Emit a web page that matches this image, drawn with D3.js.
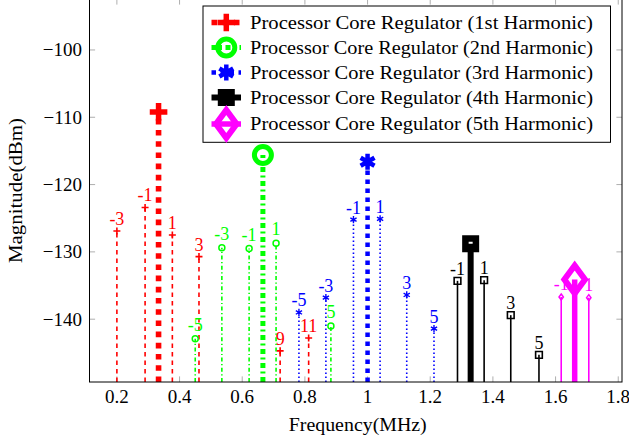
<!DOCTYPE html>
<html>
<head>
<meta charset="utf-8">
<script src="https://cdn.jsdelivr.net/npm/d3@7"></script>
<style>
  body { margin: 0; background: #fff; }
</style>
</head>
<body>
<div id="chart"></div>
<script>
// Chart data
const legendNames = [
    "Processor Core Regulator (1st Harmonic)",
    "Processor Core Regulator (2nd Harmonic)",
    "Processor Core Regulator (3rd Harmonic)",
    "Processor Core Regulator (4th Harmonic)",
    "Processor Core Regulator (5th Harmonic)"
];
const xTicks = [0.2, 0.4, 0.6, 0.8, 1.0, 1.2, 1.4, 1.6, 1.8];
const yTicks = [-140, -130, -120, -110, -100];

// main harmonic peaks
const mainFreq = [0.333, 0.666, 1.0, 1.329, 1.661];
const mainMag = [-109.2, -115.6, -116.6, -128.8, -134.1];

// sidebands of each harmonic: order label, frequency (MHz), magnitude (dBm)
const h1Orders = [-3, -1, 1, 3, 9, 11];
const h1Freq = [0.200, 0.290, 0.377, 0.462, 0.721, 0.812];
const h1Mag = [-126.9, -123.4, -127.5, -130.7, -144.7, -142.8];

const h2Orders = [-5, -3, -1, 1, 5];
const h2Freq = [0.450, 0.535, 0.622, 0.708, 0.883];
const h2Mag = [-142.9, -129.4, -129.5, -128.7, -141.0];

const h3Orders = [-5, -3, -1, 1, 3, 5];
const h3Freq = [0.781, 0.867, 0.955, 1.040, 1.125, 1.212];
const h3Mag = [-139.0, -136.8, -125.2, -125.1, -136.4, -141.4];

const h4Orders = [-1, 1, 3, 5];
const h4Freq = [1.287, 1.372, 1.457, 1.547];
const h4Mag = [-134.3, -134.2, -139.4, -145.3];

const h5Orders = [-1, 1];
const h5Freq = [1.618, 1.706];
const h5Mag = [-136.7, -136.8];

// Styles
const FONT = "Times New Roman";
const colors = ["#ff0000", "#00ff00", "#0000ff", "#000000", "#ff00ff"];
const markers = ["plus", "circle", "asterisk", "square", "diamond"];
const thinDash = ["4.5,4", "4,2.5,1.2,2.5", "1.5,2.5", null, null];
const thickDash = ["5.6,5.6", "5,3.5,2,3.5", "4.5,4.5", null, null];
const thickWidth = [5.6, 5, 4.5, 6, 5.5];
const bigMark = { plus: [8.8, 5.5], circle: [8.5, 5], asterisk: [8, 4.5], square: [5.25, 6.5], diamond: [10.3, 6] };
const smallMark = { plus: [3.5, 1.6], circle: [3, 1.5], asterisk: [3.6, 1.4], square: [3.35, 1.6], diamond: [2.2, 1.5] };
const labelGap = { plus: 6, circle: 8, asterisk: 6, square: 6, diamond: 6.5 };

const sidebands = [
    { orders: h1Orders, freq: h1Freq, mag: h1Mag },
    { orders: h2Orders, freq: h2Freq, mag: h2Mag },
    { orders: h3Orders, freq: h3Freq, mag: h3Mag },
    { orders: h4Orders, freq: h4Freq, mag: h4Mag },
    { orders: h5Orders, freq: h5Freq, mag: h5Mag }
];

const width = 629;
const height = 438;
const plot = { left: 89.5, right: 622, top: -1, bottom: 382 };

const svg = d3.select("#chart")
    .append("svg")
    .attr("width", width)
    .attr("height", height)
    .attr("font-family", FONT);

const x = d3.scaleLinear().domain([0.1126, 1.812]).range([plot.left, plot.right]);
const y = d3.scaleLinear().domain([-149.33, -92.43]).range([plot.bottom, plot.top]);

const addText = (parent, str, size) => parent.append("text")
    .attr("font-family", FONT)
    .attr("font-size", size)
    .text(str);

// Marker shapes centred on 0,0
const markerPath = (type, s) => {
    switch (type) {
        case "plus":
            return `M${-s},0H${s}M0,${-s}V${s}`;
        case "asterisk": {
            let p = "";
            [90, 30, 150].forEach(a => {
                const r = a * Math.PI / 180;
                const dx = s * Math.cos(r), dy = s * Math.sin(r);
                p += `M${-dx},${-dy}L${dx},${dy}`;
            });
            return p;
        }
        case "circle":
            return `M${s},0A${s},${s} 0 1,1 ${-s},0A${s},${s} 0 1,1 ${s},0Z`;
        case "square":
            return `M${-s},${-s}H${s}V${s}H${-s}Z`;
        case "diamond":
            return `M0,${-s * 1.36}L${s},0L0,${s * 1.36}L${-s},0Z`;
    }
};

const drawMarker = (g, type, size, color, cx, cy) => {
    g.append("path")
        .attr("d", markerPath(type, size[0]))
        .attr("transform", `translate(${cx},${cy})`)
        .attr("fill", "none")
        .attr("stroke", color)
        .attr("stroke-width", size[1])
        .attr("stroke-linejoin", "miter")
        .attr("stroke-miterlimit", 10);
};

// Ticks (gray, drawn inward on all four sides)
const tickG = svg.append("g");
xTicks.forEach(t => {
    tickG.append("line").attr("x1", x(t)).attr("x2", x(t))
        .attr("y1", plot.bottom).attr("y2", plot.bottom - 5.6)
        .attr("stroke", "#999").attr("stroke-width", 0.8);
    tickG.append("line").attr("x1", x(t)).attr("x2", x(t))
        .attr("y1", plot.top).attr("y2", plot.top + 5.6)
        .attr("stroke", "#999").attr("stroke-width", 0.8);
});
yTicks.forEach(t => {
    tickG.append("line").attr("x1", plot.left).attr("x2", plot.left + 5.6)
        .attr("y1", y(t)).attr("y2", y(t))
        .attr("stroke", "#999").attr("stroke-width", 0.8);
    tickG.append("line").attr("x1", plot.right).attr("x2", plot.right - 5.6)
        .attr("y1", y(t)).attr("y2", y(t))
        .attr("stroke", "#999").attr("stroke-width", 0.8);
});

// Tick labels
xTicks.forEach(t => {
    addText(svg, d3.format("~g")(t), 19)
        .attr("x", x(t))
        .attr("y", 402.7)
        .attr("text-anchor", "middle");
});
yTicks.forEach(t => {
    addText(svg, d3.format("d")(t), 19)
        .attr("x", 82)
        .attr("y", y(t) + 6.5)
        .attr("text-anchor", "end");
});

// Axis titles
addText(svg, "Frequency(MHz)", 18.5)
    .attr("x", (plot.left + plot.right) / 2 + 2)
    .attr("y", 431)
    .attr("text-anchor", "middle")
    .attr("textLength", 138)
    .attr("lengthAdjust", "spacingAndGlyphs");

addText(svg, "Magnitude(dBm)", 18.5)
    .attr("transform", `translate(21.5,${(plot.top + plot.bottom) / 2}) rotate(-90)`)
    .attr("text-anchor", "middle")
    .attr("textLength", 145)
    .attr("lengthAdjust", "spacingAndGlyphs");

// Spectrum stems
const g = svg.append("g");
sidebands.forEach((sb, i) => {
    const color = colors[i];
    const type = markers[i];

    sb.freq.forEach((f, j) => {
        const px = x(f), py = y(sb.mag[j]);
        g.append("line")
            .attr("x1", px).attr("x2", px)
            .attr("y1", plot.bottom).attr("y2", py)
            .attr("stroke", color)
            .attr("stroke-width", 1.6)
            .attr("stroke-dasharray", thinDash[i]);
        drawMarker(g, type, smallMark[type], color, px, py);
        addText(g, String(sb.orders[j]), 18)
            .attr("x", px)
            .attr("y", py - labelGap[type])
            .attr("text-anchor", "middle")
            .attr("fill", color);
    });

    const mx = x(mainFreq[i]), my = y(mainMag[i]);
    g.append("line")
        .attr("x1", mx).attr("x2", mx)
        .attr("y1", plot.bottom).attr("y2", my)
        .attr("stroke", color)
        .attr("stroke-width", thickWidth[i])
        .attr("stroke-dasharray", thickDash[i]);
    drawMarker(g, type, bigMark[type], color, mx, my);
});

// Plot frame
svg.append("rect")
    .attr("x", plot.left).attr("y", plot.top)
    .attr("width", plot.right - plot.left)
    .attr("height", plot.bottom - plot.top)
    .attr("fill", "none")
    .attr("stroke", "#000")
    .attr("stroke-width", 1);

// Legend
const legend = svg.append("g");
legend.append("rect")
    .attr("x", 203).attr("y", 6)
    .attr("width", 407.5).attr("height", 136.3)
    .attr("fill", "#fff")
    .attr("stroke", "#000")
    .attr("stroke-width", 1);

legendNames.forEach((name, i) => {
    const ly = 22.5 + i * 25 + (i === 4 ? 1.5 : 0);
    legend.append("line")
        .attr("x1", 211.5).attr("x2", 241)
        .attr("y1", ly).attr("y2", ly)
        .attr("stroke", colors[i])
        .attr("stroke-width", thickWidth[i])
        .attr("stroke-dasharray", thickDash[i]);
    drawMarker(legend, markers[i], bigMark[markers[i]], colors[i], 226.3, ly);
    addText(legend, name, 18.5)
        .attr("x", 250)
        .attr("y", ly + 6)
        .attr("textLength", 343)
        .attr("lengthAdjust", "spacingAndGlyphs");
});
</script>
</body>
</html>
